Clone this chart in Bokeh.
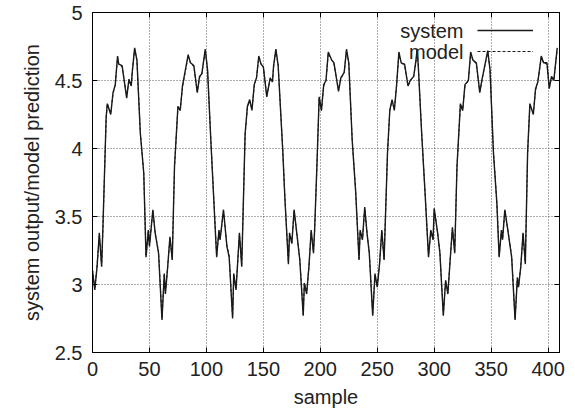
from bokeh.plotting import figure
from bokeh.models import (Range1d, FixedTicker, LinearAxis, Legend, LegendItem, Label)
from bokeh.embed import file_html
from bokeh.resources import INLINE

# ---- data ----
sample = [0, 2, 4, 6, 8, 9, 12, 13, 16, 18, 20, 22, 23, 26, 30, 32, 34, 35, 37, 39,
          42, 45, 47, 49, 50, 53, 55, 58, 61, 63, 64, 66, 68, 70, 72, 75, 77, 79, 84, 86,
          89, 92, 94, 96, 99, 101, 104, 109, 111, 112, 115, 118, 120, 123, 124, 126, 129, 131,
          134, 136, 138, 140, 142, 144, 146, 148, 150, 153, 156, 158, 159, 161, 163, 167, 169,
          172, 173, 175, 177, 180, 182, 185, 186, 188, 190, 192, 194, 195, 197, 199, 201, 203,
          205, 207, 210, 212, 216, 218, 221, 223, 225, 228, 231, 234, 235, 237, 239, 241, 243,
          246, 248, 250, 252, 254, 256, 259, 261, 263, 265, 267, 269, 271, 274, 277, 279, 282,
          284, 285, 286, 289, 292, 295, 297, 299, 300, 303, 305, 308, 310, 312, 314, 316, 318,
          320, 323, 325, 327, 330, 332, 334, 337, 340, 342, 343, 347, 349, 352, 355, 357, 359,
          360, 362, 365, 368, 371, 373, 374, 376, 378, 380, 382, 384, 387, 389, 391, 394, 396,
          399, 401, 403, 405, 408]
system = [3.10, 2.96, 3.13, 3.38, 3.13, 3.38, 4.23, 4.33, 4.25, 4.41, 4.47, 4.68, 4.62, 4.61, 4.37, 4.51, 4.46, 4.57, 4.74, 4.65,
          4.11, 3.82, 3.20, 3.40, 3.28, 3.55, 3.38, 3.23, 2.74, 3.08, 2.93, 3.13, 3.35, 3.18, 3.87, 4.31, 4.28, 4.46, 4.69, 4.63,
          4.61, 4.41, 4.53, 4.55, 4.73, 4.58, 4.04, 3.20, 3.40, 3.33, 3.55, 3.28, 3.20, 2.75, 3.08, 2.96, 3.38, 3.13,
          4.11, 4.31, 4.36, 4.28, 4.47, 4.52, 4.68, 4.62, 4.60, 4.38, 4.52, 4.49, 4.61, 4.73, 4.61, 3.99, 3.62,
          3.15, 3.38, 3.30, 3.55, 3.33, 3.18, 2.77, 3.01, 2.93, 3.13, 3.40, 3.23, 3.40, 3.87, 4.38, 4.28, 4.47,
          4.50, 4.71, 4.65, 4.63, 4.42, 4.52, 4.56, 4.73, 4.63, 4.06, 3.69, 3.18, 3.40, 3.33, 3.57, 3.38, 3.23,
          2.77, 3.08, 2.98, 3.15, 3.40, 3.18, 3.97, 4.28, 4.36, 4.28, 4.47, 4.71, 4.63, 4.62, 4.46, 4.50, 4.53,
          4.65, 4.73, 4.61, 4.11, 3.67, 3.20, 3.40, 3.33, 3.56, 3.38, 3.23, 2.77, 3.03, 2.93, 3.18, 3.42, 3.23,
          3.87, 4.33, 4.28, 4.47, 4.50, 4.71, 4.65, 4.63, 4.41, 4.51, 4.55, 4.72, 4.58, 3.97, 3.60, 3.20, 3.40,
          3.33, 3.55, 3.38, 3.20, 2.74, 3.05, 2.98, 3.13, 3.38, 3.15, 3.97, 4.33, 4.25, 4.44, 4.49, 4.68, 4.63,
          4.63, 4.44, 4.53, 4.50, 4.74]
model = [3.11, 2.97, 3.14, 3.36, 3.14, 3.37, 4.22, 4.33, 4.26, 4.40, 4.47, 4.67, 4.62, 4.60, 4.38, 4.50, 4.46, 4.57, 4.73, 4.65,
         4.12, 3.82, 3.21, 3.39, 3.29, 3.54, 3.38, 3.24, 2.75, 3.07, 2.94, 3.13, 3.34, 3.19, 3.86, 4.30, 4.28, 4.45, 4.68, 4.63,
         4.60, 4.42, 4.52, 4.55, 4.72, 4.58, 4.05, 3.21, 3.39, 3.33, 3.54, 3.29, 3.21, 2.76, 3.07, 2.97, 3.37, 3.14,
         4.10, 4.30, 4.35, 4.29, 4.46, 4.52, 4.67, 4.62, 4.60, 4.39, 4.51, 4.49, 4.60, 4.72, 4.61, 4.00, 3.62,
         3.16, 3.37, 3.31, 3.54, 3.33, 3.19, 2.78, 3.01, 2.94, 3.13, 3.39, 3.24, 3.39, 3.86, 4.37, 4.28, 4.46,
         4.50, 4.70, 4.65, 4.62, 4.43, 4.51, 4.56, 4.72, 4.63, 4.07, 3.69, 3.19, 3.39, 3.33, 3.56, 3.38, 3.24,
         2.78, 3.07, 2.99, 3.15, 3.39, 3.19, 3.96, 4.28, 4.35, 4.29, 4.46, 4.70, 4.63, 4.61, 4.46, 4.50, 4.53,
         4.64, 4.72, 4.61, 4.12, 3.67, 3.21, 3.39, 3.33, 3.55, 3.38, 3.24, 2.78, 3.03, 2.94, 3.18, 3.41, 3.24,
         3.86, 4.32, 4.28, 4.46, 4.50, 4.70, 4.65, 4.62, 4.42, 4.50, 4.55, 4.71, 4.58, 3.98, 3.60, 3.21, 3.39,
         3.33, 3.54, 3.38, 3.21, 2.75, 3.05, 2.99, 3.13, 3.37, 3.16, 3.96, 4.32, 4.26, 4.43, 4.49, 4.67, 4.63,
         4.62, 4.45, 4.52, 4.50, 4.73]

x_ticks = [0, 50, 100, 150, 200, 250, 300, 350, 400]
y_ticks = [2.5, 3, 3.5, 4, 4.5, 5]
y_tick_labels = ["2.5", "3", "3.5", "4", "4.5", "5"]
series_names = ["system", "model"]

FONT = "Liberation Sans"
TXT = "#222222"

p = figure(width=575, height=415, output_backend="svg", toolbar_location=None,
           x_range=Range1d(0, 410), y_range=Range1d(2.5, 5),
           min_border_left=92, min_border_right=16, min_border_top=12, min_border_bottom=63)
p.background_fill_color = "white"
p.border_fill_color = "white"
p.outline_line_color = "black"
p.outline_line_width = 1

r_sys = p.line(sample, system, line_color="#1a1a1a", line_width=1.4)
r_mod = p.line(sample, model, line_color="#1a1a1a", line_width=1.0, line_dash="3 2")

xt = FixedTicker(ticks=x_ticks, minor_ticks=[])
yt = FixedTicker(ticks=y_ticks, minor_ticks=[])

for ax in p.xaxis:
    ax.ticker = xt
for ax in p.yaxis:
    ax.ticker = yt
p.yaxis.major_label_overrides = {t: l for t, l in zip(y_ticks, y_tick_labels)}

for ax in list(p.xaxis) + list(p.yaxis):
    ax.axis_line_color = "black"
    ax.major_tick_in = 5
    ax.major_tick_out = 0
    ax.major_tick_line_color = "black"
    ax.minor_tick_line_color = None
    ax.major_label_text_font = FONT
    ax.major_label_text_font_size = "20px"
    ax.major_label_text_color = TXT
    ax.axis_label_text_font = FONT
    ax.axis_label_text_font_size = "20px"
    ax.axis_label_text_font_style = "normal"
    ax.axis_label_text_color = TXT

p.xaxis.axis_label = "sample"
p.yaxis.axis_label = "system output/model prediction"
p.xaxis.major_label_standoff = 9
p.yaxis.major_label_standoff = 10
p.xaxis.axis_label_standoff = 7
p.yaxis.axis_label_standoff = 9

# mirrored tick axes (top / right), labels left blank
top = LinearAxis(ticker=xt, major_tick_in=5, major_tick_out=0, major_label_standoff=0,
                 minor_tick_line_color=None, axis_line_color="black",
                 major_label_overrides={t: "" for t in x_ticks})
right = LinearAxis(ticker=yt, major_tick_in=5, major_tick_out=0, major_label_standoff=0,
                   minor_tick_line_color=None, axis_line_color="black",
                   major_label_overrides={t: "" for t in y_ticks})
p.add_layout(top, "above")
p.add_layout(right, "right")

for g in (p.xgrid, p.ygrid):
    g.grid_line_color = "#333333"
    g.grid_line_dash = "1 2"
    g.grid_line_width = 0.8
p.xgrid.ticker = xt
p.ygrid.ticker = yt

# gnuplot-style key: text on the left, line sample on the right
legend = Legend(items=[LegendItem(label=" ", renderers=[r_sys]),
                       LegendItem(label=" ", renderers=[r_mod])],
                location=(385, 291), glyph_width=56, glyph_height=20, label_height=20,
                label_text_font_size="10px", spacing=1, padding=0, margin=0,
                border_line_color=None, background_fill_alpha=0)
p.add_layout(legend, "center")

for i, name in enumerate(series_names):
    p.add_layout(Label(x=371, y=322 - i * 21, x_units="screen", y_units="screen", text=name,
                       text_align="right", text_baseline="middle", text_font=FONT,
                       text_font_size="20px", text_color=TXT))

open("out.html", "w").write(file_html(p, INLINE))
